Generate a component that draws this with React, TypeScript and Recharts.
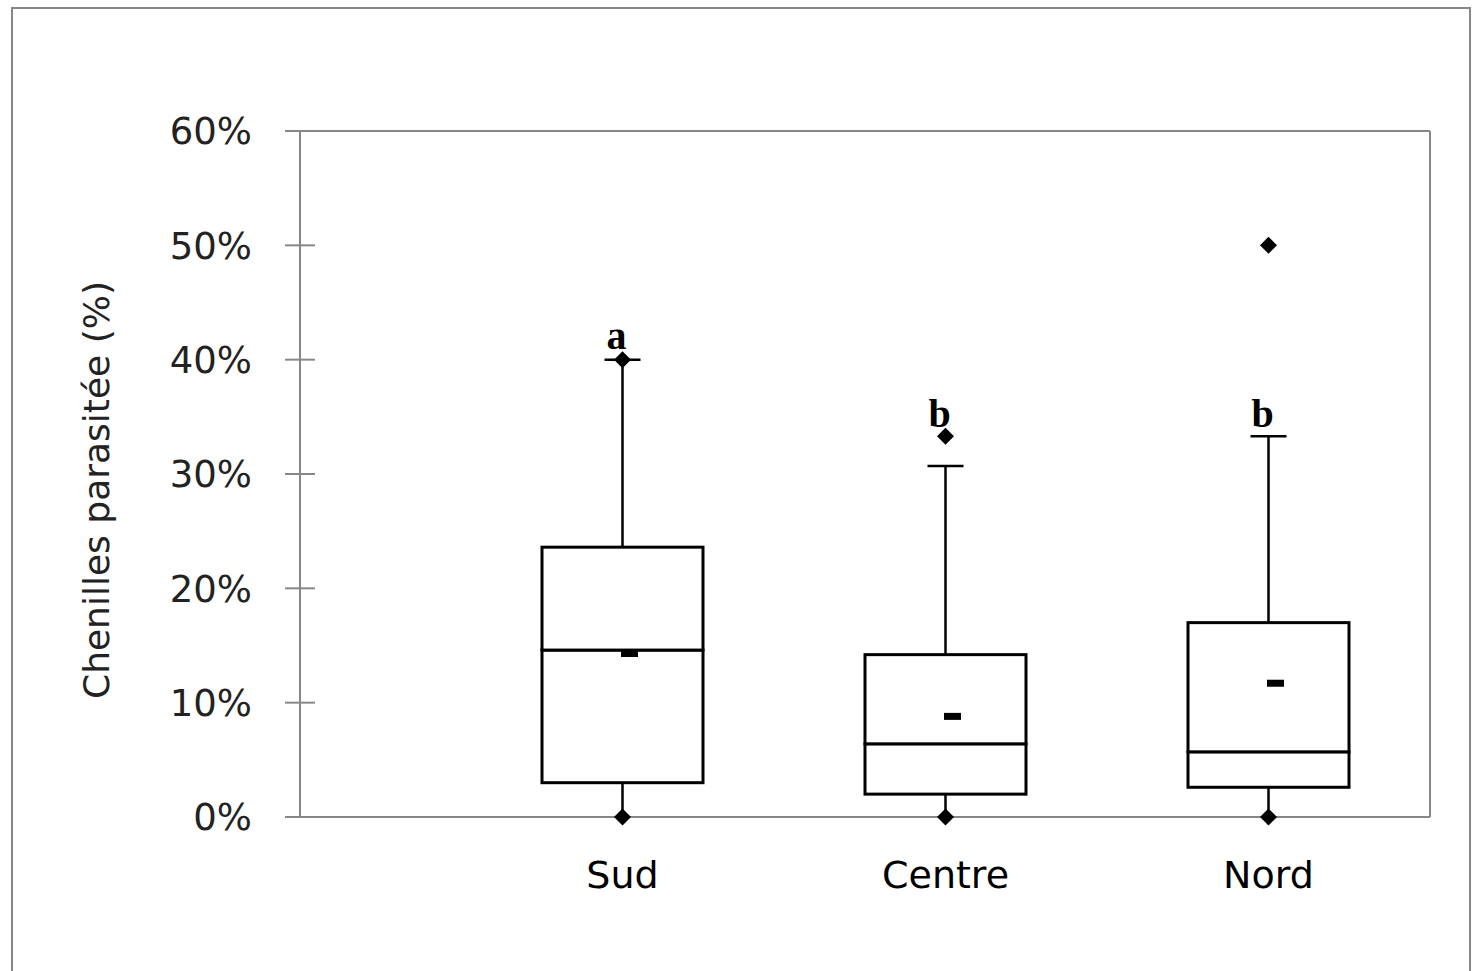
import { ComposedChart, Bar, Line, XAxis, YAxis, LabelList } from 'recharts';

const categories = ['Sud', 'Centre', 'Nord'];
const minValues = [0, 0, 0];
const q1Values = [0.03, 0.02, 0.026];
const medianValues = [0.146, 0.064, 0.057];
const q3Values = [0.236, 0.142, 0.17];
const whiskerTopValues = [0.4, 0.307, 0.333];
const maxValues = [0.4, 0.333, 0.5];
const meanValues = [0.143, 0.088, 0.117];
const letters = ['a', 'b', 'b'];
const letterLevels = [0.409, 0.341, 0.341];
const yTicks = [0, 0.1, 0.2, 0.3, 0.4, 0.5, 0.6];

const AXIS_GREY = '#878787';
const FONT = '"DejaVu Sans", Verdana, sans-serif';
const TICK_LEN = 15;
const TICK_GAP = 33;

// stacked pieces: invisible base, lower whisker, two box halves, upper whisker
const data = categories.map((name, i) => ({
  name,
  base: minValues[i],
  lowWhisker: q1Values[i] - minValues[i],
  boxLow: medianValues[i] - q1Values[i],
  boxHigh: q3Values[i] - medianValues[i],
  highWhisker: whiskerTopValues[i] - q3Values[i],
  min: minValues[i],
  max: maxValues[i],
  mean: meanValues[i],
  letter: letters[i],
  letterLevel: letterLevels[i],
}));

function LowerWhisker(props: any) {
  const { x, y, width, height } = props;
  const cx = x + width / 2;
  return <line x1={cx} x2={cx} y1={y} y2={y + height} stroke="#000" strokeWidth={2.5} />;
}

function UpperWhisker(props: any) {
  const { x, y, width, height } = props;
  const cx = x + width / 2;
  return (
    <g>
      <line x1={cx} x2={cx} y1={y} y2={y + height} stroke="#000" strokeWidth={2.5} />
      <line x1={cx - 18} x2={cx + 18} y1={y} y2={y} stroke="#000" strokeWidth={2.5} />
    </g>
  );
}

function BoxPart(props: any) {
  const { x, y, width, height } = props;
  return <rect x={x} y={y} width={width} height={height} fill="#fff" stroke="#000" strokeWidth={3} />;
}

function Diamond(props: any) {
  const { cx, cy, index } = props;
  if (cx == null || cy == null) return <g key={`d-${index}`} />;
  const r = 8.5;
  return (
    <path
      key={`d-${index}-${cy}`}
      d={`M${cx},${cy - r} L${cx + r},${cy} L${cx},${cy + r} L${cx - r},${cy} Z`}
      fill="#000"
    />
  );
}

function MeanMark(props: any) {
  const { cx, cy, index } = props;
  if (cx == null || cy == null) return <g key={`m-${index}`} />;
  return <rect key={`m-${index}`} x={cx - 1.5} y={cy - 3.5} width={17} height={7} fill="#000" />;
}

function LetterLabel(props: any) {
  const { x, y, value } = props;
  return (
    <text
      x={x - 6}
      y={y}
      textAnchor="middle"
      fontFamily='"Liberation Serif", "Times New Roman", serif'
      fontWeight="bold"
      fontSize={40}
      fill="#000"
    >
      {value}
    </text>
  );
}

// y tick: label plus a tick mark that crosses the axis
function YTick(props: any) {
  const { x, y, payload } = props;
  const axisX = x + TICK_GAP + TICK_LEN;
  return (
    <g>
      <line x1={axisX - TICK_LEN} x2={axisX + TICK_LEN} y1={y} y2={y} stroke={AXIS_GREY} strokeWidth={2} />
      <text
        x={x}
        y={y}
        dy="0.36em"
        textAnchor="end"
        fontFamily={FONT}
        fontSize={37}
        fill="#222"
      >
        {`${Math.round(payload.value * 100)}%`}
      </text>
    </g>
  );
}

function YTitle() {
  return (
    <text
      x={96}
      y={490}
      transform="rotate(-90, 96, 490)"
      textAnchor="middle"
      dominantBaseline="central"
      fontFamily={FONT}
      fontSize={36}
      fill="#222"
    >
      Chenilles parasitée (%)
    </text>
  );
}

export default function App() {
  return (
    <div
      style={{
        position: 'absolute',
        left: 0,
        top: 0,
        width: 1474,
        height: 971,
        overflow: 'hidden',
        background: '#fff',
      }}
    >
      <div
        style={{
          position: 'absolute',
          left: 11,
          top: 7,
          width: 1460,
          height: 1000,
          border: `2px solid ${AXIS_GREY}`,
          boxSizing: 'border-box',
        }}
      />
      <ComposedChart
        width={1474}
        height={971}
        data={data}
        margin={{ top: 131, right: 44, bottom: 94, left: 240 }}
        style={{ position: 'absolute', left: 0, top: 0 }}
      >
        <XAxis
          dataKey="name"
          type="category"
          padding={{ left: 161, right: 0 }}
          height={60}
          tickLine={false}
          tickSize={0}
          tickMargin={44}
          axisLine={{ stroke: AXIS_GREY, strokeWidth: 2 }}
          tick={{ fill: '#000', fontSize: 38, fontFamily: FONT }}
        />
        <XAxis
          xAxisId="top"
          dataKey="name"
          orientation="top"
          mirror
          tickLine={false}
          tick={false}
          axisLine={{ stroke: AXIS_GREY, strokeWidth: 2 }}
        />
        <YAxis
          type="number"
          domain={[0, 0.6]}
          ticks={yTicks}
          width={60}
          tickSize={TICK_LEN}
          tickMargin={TICK_GAP}
          tickLine={false}
          axisLine={{ stroke: AXIS_GREY, strokeWidth: 2 }}
          tick={<YTick />}
          label={<YTitle />}
        />
        <YAxis
          yAxisId="right"
          type="number"
          orientation="right"
          domain={[0, 0.6]}
          mirror
          tick={false}
          tickLine={false}
          axisLine={{ stroke: AXIS_GREY, strokeWidth: 2 }}
        />
        <Bar dataKey="base" stackId="box" barSize={161} fill="none" isAnimationActive={false} />
        <Bar dataKey="lowWhisker" stackId="box" barSize={161} shape={<LowerWhisker />} isAnimationActive={false} />
        <Bar dataKey="boxLow" stackId="box" barSize={161} shape={<BoxPart />} isAnimationActive={false} />
        <Bar dataKey="boxHigh" stackId="box" barSize={161} shape={<BoxPart />} isAnimationActive={false} />
        <Bar dataKey="highWhisker" stackId="box" barSize={161} shape={<UpperWhisker />} isAnimationActive={false} />
        <Line dataKey="min" stroke="none" dot={Diamond} activeDot={false} isAnimationActive={false} />
        <Line dataKey="max" stroke="none" dot={Diamond} activeDot={false} isAnimationActive={false} />
        <Line dataKey="mean" stroke="none" dot={MeanMark} activeDot={false} isAnimationActive={false} />
        <Line dataKey="letterLevel" stroke="none" dot={false} activeDot={false} isAnimationActive={false}>
          <LabelList dataKey="letter" content={<LetterLabel />} />
        </Line>
      </ComposedChart>
    </div>
  );
}
